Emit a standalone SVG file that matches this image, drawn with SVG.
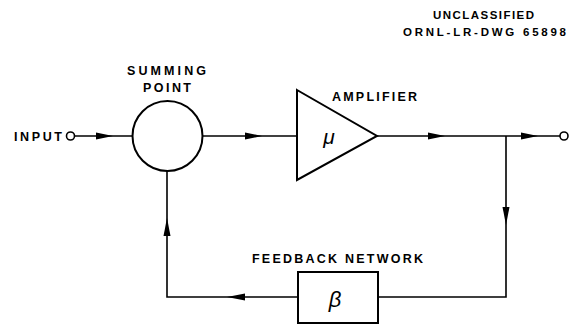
<svg xmlns="http://www.w3.org/2000/svg" width="570" height="325" viewBox="0 0 570 325">
<style>
.ln{fill:none;stroke:#000;stroke-width:1.6}
.sh{fill:#fff;stroke:#000;stroke-width:2}
.t{font-family:"Liberation Sans",Arial,sans-serif;font-size:12.5px;font-weight:bold;fill:#000}
.s{font-family:"Liberation Sans",Arial,sans-serif;font-style:italic;fill:#000}
.ah{fill:#000;stroke:none}
</style>
<rect width="570" height="325" fill="#fff"/>
<g id="labels">
<text class="t" x="433" y="19" textLength="101" lengthAdjust="spacing" style="font-size:11.5px">UNCLASSIFIED</text>
<text class="t" x="403" y="36" textLength="163" lengthAdjust="spacing" style="font-size:11.5px">ORNL-LR-DWG 65898</text>
</g>
<g id="connectors">
<path class="ln" d="M75 136 H133"/>
<path class="ah" d="M96 132.5 L113 136 L96 139.5 Z"/>
<path class="ln" d="M203 136 H297"/>
<path class="ah" d="M245 132.5 L262 136 L245 139.5 Z"/>
<path class="ln" d="M377 136 H560"/>
<path class="ah" d="M428 132.5 L445 136 L428 139.5 Z"/>
<path class="ah" d="M521 132.5 L538 136 L521 139.5 Z"/>
<path class="ln" d="M506 136 V297 H378"/>
<path class="ah" d="M502.5 207 L506 225 L509.5 207 Z"/>
<path class="ln" d="M298 297 H167 V170"/>
<path class="ah" d="M245 293.5 L227 297 L245 300.5 Z"/>
<path class="ah" d="M163.5 236 L167 218 L170.5 236 Z"/>
</g>
<g id="input">
<text class="t" x="14" y="141" textLength="48" lengthAdjust="spacing">INPUT</text>
<circle cx="70.5" cy="136" r="4" class="sh" style="stroke-width:1.6"/>
</g>
<g id="output">
<circle cx="564" cy="136" r="4" class="sh" style="stroke-width:1.6"/>
</g>
<g id="summing-point">
<circle cx="167.5" cy="136" r="35" class="sh"/>
<text class="t" x="127" y="75" textLength="79" lengthAdjust="spacing">SUMMING</text>
<text class="t" x="143" y="92" textLength="48" lengthAdjust="spacing">POINT</text>
</g>
<g id="amplifier">
<path class="sh" d="M297 90 L377 136 L297 180 Z"/>
<text class="s" x="329" y="144" font-size="21" text-anchor="middle">μ</text>
<text class="t" x="332" y="101" textLength="85" lengthAdjust="spacing">AMPLIFIER</text>
</g>
<g id="feedback-network">
<rect x="298" y="272" width="80" height="51" class="sh"/>
<text class="s" x="335" y="307" font-size="22" text-anchor="middle">β</text>
<text class="t" x="252" y="263" textLength="171" lengthAdjust="spacing">FEEDBACK NETWORK</text>
</g>
</svg>
